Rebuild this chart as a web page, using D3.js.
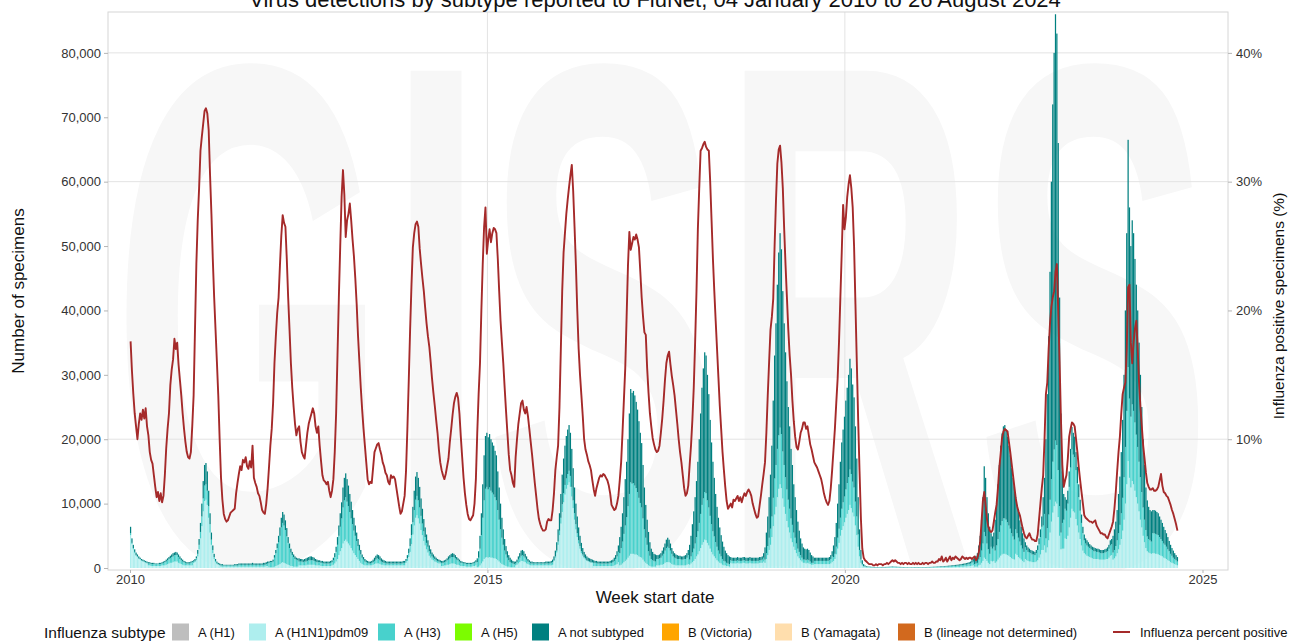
<!DOCTYPE html>
<html><head><meta charset="utf-8">
<script src="https://cdn.jsdelivr.net/npm/d3@7"></script>
<style>
html,body{margin:0;padding:0;background:#fff;}
svg{display:block;font-family:"Liberation Sans",Arial,Helvetica,sans-serif;}
</style></head><body>
<svg id="chart" width="1296" height="644"></svg>
<script>
// ---------------- DATA ----------------
const titleText = "Virus detections by subtype reported to FluNet, 04 January 2010 to 26 August 2024";
const firstWeek = "2010-01-04";
const lastWeek = "2024-08-26";
const subtypeNames = ["A (H1)","A (H1N1)pdm09","A (H3)","A (H5)","A not subtyped","B (Victoria)","B (Yamagata)","B (lineage not determined)"];
const subtypeColors = ["#bebebe","#aeeeee","#48d1cc","#7cfc00","#008080","#ffa500","#ffdead","#d2691e"];
const lineName = "Influenza percent positive";
const lineColor = "#a52a2a";
const countTicks = [0,10000,20000,30000,40000,50000,60000,70000,80000];
const pctTicks = [10,20,30,40];
const yearTicks = [2010,2015,2020,2025];
const countGrid = [20000,60000,80000];
const yearGrid = [2015,2020];

// weekly counts, A(H1N1)pdm09
const pdm09 = [
5100,3700,2900,2300,1900,1700,1400,1300,1100,1000,900,800,700,
400,400,300,300,300,300,300,300,300,300,400,400,400,500,600,700,800,800,900,1000,1000,1000,800,700,600,500,400,400,400,400,400,400,400,
800,900,1200,1800,2900,4600,6500,8800,10400,10600,9800,7800,5500,3600,2300,1400,900,600,500,400,
200,200,200,200,200,200,200,200,200,200,200,200,200,200,200,200,200,200,200,200,200,200,200,200,200,200,200,200,200,200,200,200,200,300,300,
100,100,100,100,200,300,400,500,600,800,900,800,700,600,500,400,300,300,200,200,200,200,
400,400,400,400,400,400,500,500,500,500,500,500,400,400,400,400,300,300,300,300,300,300,300,300,400,
500,700,1000,1400,2000,2600,3100,3800,4200,4400,4100,3800,3500,3100,2700,2300,2000,1700,1400,1100,800,600,500,400,400,
400,400,400,400,500,600,700,700,700,600,500,500,400,400,400,400,400,400,400,400,400,400,400,400,400,400,400,400,
800,1100,1700,2500,3700,5200,6600,7800,8200,7700,6900,5900,5100,4200,3500,2900,2400,1900,1600,1300,1200,1000,900,800,700,700,
300,300,400,400,500,500,600,700,700,700,600,500,500,400,300,300,300,300,200,200,200,200,200,300,300,400,
100,200,400,700,1000,1400,1600,1700,1600,1700,1600,1600,1500,1500,1400,1200,1000,800,600,500,400,300,200,200,100,100,100,100,
400,500,700,900,1100,1100,1000,900,700,600,500,400,400,400,400,400,400,400,400,400,400,400,400,400,400,400,400,500,
1100,1600,2400,3600,5100,6900,8700,10200,11400,12300,12900,13300,12600,11100,9300,7500,6000,4800,3800,3000,2300,1900,1500,1300,1100,1000,900,800,800,
300,300,300,300,300,300,300,300,300,300,300,300,300,300,300,400,500,600,900,
400,500,700,900,1100,1300,1600,1900,2200,2200,2200,2100,2100,2000,1800,1700,1600,1300,1000,800,600,400,300,200,200,200,200,
400,400,400,500,500,600,800,900,900,900,800,600,500,500,400,400,400,400,400,400,400,400,500,600,
500,700,900,1100,1400,1800,2100,2600,3100,3600,4000,4400,4300,3900,3500,3000,2500,2100,1800,1500,1200,1000,800,700,500,400,400,300,300,200,
800,700,700,700,700,800,700,700,700,800,800,700,700,700,800,700,700,700,700,700,700,800,800,800,1000,
800,1400,2000,2800,3600,4800,6500,8300,9500,11000,12300,13000,12400,10800,9500,8400,7300,6300,5500,4600,4000,3300,2800,2300,1800,1500,1200,1000,800,800,700,800,700,600,500,500,
600,600,600,600,600,600,600,600,600,600,600,600,700,900,
1100,1400,2100,3000,3900,5000,5900,6500,7100,7800,8400,9000,9800,9300,8600,8000,6600,5100,3300,1800,800,400,200,
120,90,80,70,60,50,50,50,40,40,40,40,50,40,50,50,50,60,60,70,
70,70,60,60,60,50,50,50,40,40,40,40,40,40,40,40,40,40,50,40,
40,40,40,40,40,50,50,50,50,60,60,60,70,70,80,80,80,90,90,100,
100,110,110,120,130,140,140,150,160,170,180,190,200,220,230,250,270,300,360,420,
200,200,200,400,500,800,1100,1600,1400,1100,800,600,1100,1000,1100,800,1000,1300,1600,1900,
2100,2200,2200,2100,2000,1900,1700,1500,1400,1300,2200,2000,1700,1500,1300,1100,900,1400,1200,1100,
1000,1000,900,900,900,1000,1200,1600,2100,2800,2800,3500,
2400,3200,4300,5500,7200,8600,9600,10300,10000,7900,5000,2900,3000,3000,
4600,4500,5000,6300,7800,9200,8800,8600,7600,6600,5500,4500,3500,2700,
2300,2100,1900,1800,1700,1600,1500,1400,1400,1400,1400,1300,1300,1300,1300,1300,1400,1400,1600,1900,2000,
1300,1500,1800,2300,2900,3600,4500,5800,7500,10000,13000,16600,14000,12500,13500,13000,12000,11000,10000,8800,7500,6300,5000,4000,3100,2600,2400,2300,2200,
2300,2300,2200,2200,2100,2000,1900,1800,1600,1500,1400,1200,1100,900,800,700,600,500,400
];

// weekly counts, A(H3)
const h3 = [
300,200,200,200,100,100,100,100,100,100,100,100,100,
300,300,300,300,300,300,300,300,300,300,300,400,500,500,600,700,700,900,900,1000,1000,1000,900,700,600,500,500,400,300,300,300,400,500,
200,200,300,400,700,1000,1500,2000,2400,2400,2200,1800,1300,800,500,300,200,200,100,100,
200,200,200,200,200,200,200,200,200,200,200,200,200,300,300,300,300,300,300,300,300,300,300,300,300,300,300,300,300,300,300,300,300,300,400,
700,800,800,900,1400,2000,2700,3500,4400,5500,6100,5800,5200,4300,3400,2700,2100,1700,1500,1200,1100,1000,
600,600,600,500,600,600,600,700,700,700,700,600,600,500,500,500,500,500,400,400,400,400,400,500,500,
700,1000,1500,2200,3000,3800,4600,5600,6300,6600,6200,5800,5200,4600,4100,3500,3000,2500,2000,1600,1300,1000,800,600,500,
400,300,300,400,400,500,600,800,700,600,500,400,400,400,300,300,300,300,300,300,300,300,300,300,300,300,400,400,
300,400,600,900,1400,1900,2400,2800,3000,2800,2500,2200,1800,1500,1300,1000,900,700,600,500,400,400,300,300,300,200,
500,500,500,600,700,800,900,1000,1000,1000,900,800,700,600,500,500,400,400,400,400,400,400,400,400,500,500,
800,1400,2600,4400,6800,9100,10700,10900,10600,10800,10400,10100,9900,9500,9100,7800,6500,5200,4100,3100,2300,1800,1400,1000,800,700,600,500,
300,400,600,700,800,900,800,700,600,400,400,300,300,300,300,300,300,300,300,300,300,300,300,300,300,300,400,400,
100,200,300,500,700,900,1200,1400,1500,1600,1700,1800,1700,1500,1200,1000,800,600,500,400,300,200,200,200,100,100,100,100,100,
500,500,500,400,400,400,400,400,400,400,400,400,500,500,600,700,900,1200,1600,
1900,2600,3400,4400,5500,6600,8000,9600,11100,10900,11000,10700,10300,9800,9100,8400,7800,6400,5000,3900,3000,2200,1600,1200,1000,900,800,
1000,1000,1100,1100,1400,1600,1900,2200,2400,2200,1900,1600,1300,1100,1100,1000,1000,1000,900,900,1000,1000,1100,1400,
800,1100,1500,1900,2400,3000,3600,4400,5300,6200,6800,7400,7300,6600,5900,5100,4300,3600,3100,2500,2100,1700,1400,1100,900,700,600,500,400,400,
400,400,400,400,400,400,400,400,400,400,400,400,400,400,400,400,400,400,400,400,400,400,400,500,600,
500,900,1400,1900,2500,3200,4400,5600,6500,7500,8300,8800,8400,7300,6500,5700,4900,4300,3700,3100,2700,2200,1900,1500,1200,1000,800,600,500,500,500,500,500,400,300,300,
500,500,500,500,500,500,500,500,500,500,500,600,700,900,
600,800,1200,1700,2200,2800,3300,3700,4000,4400,4800,5100,5500,5300,4800,4500,3700,2900,1900,1000,500,200,100,
160,120,100,90,80,70,70,60,60,60,60,60,60,60,60,70,70,80,80,90,
90,90,80,80,80,70,70,60,60,60,60,60,50,50,60,60,60,60,60,60,
60,60,60,60,60,60,70,70,70,80,80,80,90,90,100,100,110,120,120,130,
140,140,150,160,170,180,190,200,210,220,240,260,270,290,300,330,360,400,480,560,
400,500,600,900,1200,1900,2700,4000,3500,2700,2100,1600,2200,2000,2200,1900,2500,3200,4000,4700,
5200,5500,5500,5400,5100,4700,4400,3900,3500,3100,3800,3400,3000,2600,2200,1900,1600,1800,1600,1400,
1400,1300,1200,1200,1100,1300,1600,2100,2700,3600,3800,4900,
2200,3000,4000,5100,6600,7900,8800,9500,9100,7300,4600,2600,4000,4500,
4600,4400,5000,6300,7800,9200,8800,8600,7600,6600,5500,4400,3500,2700,
2000,1700,1600,1500,1400,1300,1300,1200,1200,1100,1100,1100,1000,1000,1000,1100,1100,1200,1400,1600,1700,
1100,1300,1600,2000,2500,3100,4000,5100,6600,8800,11400,14600,12300,11000,11900,11400,10600,9700,8800,7700,6600,5500,4400,3500,2800,2300,2100,2000,1900,
3100,3100,3100,3000,3000,2800,2600,2400,2200,2100,1900,1700,1500,1300,1100,900,800,700,600
];

// weekly counts, A not subtyped
const notSubtyped = [
1000,700,500,400,400,300,300,200,200,200,200,200,200,
200,200,200,200,200,100,100,100,200,200,200,200,200,300,300,300,400,400,500,400,500,400,400,400,300,300,200,200,200,200,200,200,200,
200,300,300,600,900,1400,2000,2700,3200,3300,3000,2400,1700,1100,700,500,300,200,200,200,
200,200,100,100,100,100,100,100,100,100,200,200,200,200,200,200,200,200,200,200,200,200,200,300,200,200,200,200,200,200,200,300,300,300,300,
200,200,200,300,400,500,700,1000,1300,1500,1700,1700,1500,1300,900,700,600,500,400,400,300,300,
500,400,400,400,400,500,500,500,600,600,500,500,400,400,300,300,300,300,300,300,300,300,300,300,300,
400,600,800,1200,1600,2100,2500,3100,3500,3700,3500,3200,2800,2600,2200,2000,1600,1300,1100,900,700,500,400,400,300,
300,300,300,300,400,500,600,600,600,600,500,400,400,300,300,300,300,300,300,300,300,300,300,300,300,300,300,300,
300,500,700,1200,1700,2400,3000,3600,3700,3500,3200,2700,2300,1900,1500,1300,1000,900,700,600,500,400,400,300,300,300,
300,300,300,300,300,500,500,500,600,500,500,400,300,300,300,200,200,200,200,200,200,200,200,200,200,300,
600,1000,2000,3400,5200,7000,8200,8400,8100,8300,8000,7800,7600,7200,7000,6000,5000,4000,3100,2400,1800,1300,1000,800,700,500,400,400,
300,400,500,700,800,800,800,600,500,400,300,300,300,200,200,200,200,200,200,200,200,200,300,300,300,300,300,400,
600,900,1300,1900,2700,3700,4600,5400,6100,6600,6900,7100,6700,5900,5000,4000,3200,2600,2000,1600,1300,1000,800,600,600,500,500,500,400,
400,300,300,300,300,300,300,300,300,300,300,300,300,400,400,500,600,800,1000,
2500,3300,4400,5700,7200,8600,10400,12500,14500,14100,14300,14000,13400,12800,11900,10900,10000,8300,6500,5100,3900,3000,2100,1600,1300,1100,1100,
600,600,600,700,800,1000,1100,1300,1400,1300,1100,900,800,700,600,600,500,500,500,500,500,600,700,800,
2300,3200,4400,5800,7200,8700,10800,13000,15600,18200,20200,21700,21400,19500,17600,14900,12700,10800,9100,7500,6200,5100,4100,3300,2700,2200,1700,1500,1300,1200,
500,500,500,500,500,500,500,500,500,500,500,500,500,500,500,500,500,500,500,500,500,500,500,500,700,
1900,3200,4600,6300,8400,11000,15100,19100,22000,25500,28400,30200,28700,24900,22000,19400,16800,14400,12800,10800,9300,7500,6300,5200,4200,3300,2600,2200,1900,1700,1700,1700,1600,1400,1200,1000,
500,500,500,500,500,500,500,500,500,500,500,500,600,800,
1800,2600,3700,5300,6900,8700,10300,11300,12400,13800,14800,15900,17200,16400,15100,14000,11700,9000,5800,3200,1500,600,300,
120,90,70,60,60,60,50,50,50,50,40,50,50,50,50,50,60,50,60,60,
70,60,70,60,50,60,50,50,50,50,40,40,40,40,40,40,50,50,50,50,
50,40,40,50,50,50,50,50,60,50,60,70,60,70,70,80,90,80,90,90,
100,110,120,120,120,130,150,150,160,170,180,190,210,210,230,240,270,300,360,420,
1000,1200,1500,2200,3300,4800,7200,10200,9100,7200,5600,4200,2100,1900,2200,4800,6500,8500,10400,12400,
13600,14300,14500,14000,13300,12400,11400,10100,9100,8200,5000,4400,3900,3300,2900,2400,2100,800,700,700,
600,500,600,500,500,500,700,900,1200,1600,4400,5600,
15400,20800,27700,35400,46200,55500,61600,66200,63900,50800,32400,18500,8000,4000,
1800,1700,2000,2400,2900,3500,3400,3200,2800,2500,2000,1700,1300,1000,
900,800,800,700,600,600,500,600,500,500,500,500,500,500,500,500,500,600,600,800,800,
2600,3200,3800,4700,6100,7500,9500,12100,15900,21200,27600,35300,29700,26500,28600,27600,25400,23300,21200,18500,15900,13200,10600,8500,6600,5600,5000,4700,4700,
3600,3600,3600,3500,3400,3200,3000,2800,2600,2300,2100,1900,1600,1400,1200,1100,900,800,700
];

// weekly influenza percent positive (%)
const pctPositive = [
17.6,15.3,13.5,12.0,11.0,10.0,11.2,12.0,11.5,12.3,11.6,12.4,11.0,10.3,9.0,8.4,8.1,7.2,6.3,5.5,5.9,5.2,5.8,5.1,5.6,7.2,9.3,10.8,12.0,14.2,15.4,16.2,17.8,17.0,17.5,15.8,14.6,13.4,12.0,10.8,9.8,9.0,8.6,8.5,9.0,11.0,13.4,18.5,23.6,27.0,29.5,32.4,
33.5,34.5,35.5,35.7,35.3,34.0,30.5,27.5,24.0,21.0,18.5,16.0,13.4,10.0,7.0,5.3,4.2,3.8,3.6,3.7,4.0,4.3,4.4,4.5,4.6,5.8,6.6,7.3,7.9,7.6,8.4,8.2,8.6,7.9,7.7,8.3,7.8,9.5,7.0,6.6,6.3,5.8,5.6,5.1,4.5,4.3,4.2,5.0,6.2,7.8,9.5,10.8,
12.8,15.9,18.0,19.8,21.0,23.5,25.8,27.4,26.8,26.5,24.0,21.0,18.5,15.9,14.0,12.5,11.2,10.3,10.8,11.0,9.8,9.0,8.7,8.5,9.5,10.5,11.2,11.6,12.0,12.4,12.0,11.0,10.5,11.0,9.5,8.3,7.2,6.8,6.7,6.5,6.7,6.0,5.5,6.0,6.9,9.0,12.0,16.5,21.0,25.0,28.8,30.9,
29.0,25.7,27.0,27.5,28.3,27.0,25.5,24.2,22.5,20.5,18.0,16.0,14.0,12.3,10.8,9.5,8.2,6.9,6.5,6.7,6.6,7.8,9.0,9.3,9.6,9.7,9.2,8.8,8.2,7.9,7.4,7.2,6.7,6.5,7.2,7.0,7.1,6.9,6.2,5.5,4.8,4.2,4.4,5.0,5.6,7.5,10.8,14.5,18.5,22.0,24.9,26.0,
26.7,26.9,26.5,24.8,23.6,22.5,21.5,20.2,19.0,18.0,17.2,16.0,14.7,13.6,12.6,11.5,10.5,9.2,8.2,7.6,7.2,6.9,7.3,7.9,8.5,9.8,10.8,11.9,12.8,13.3,13.6,13.2,12.0,10.2,8.6,7.0,5.8,4.9,4.2,3.8,3.7,3.9,4.1,5.0,6.9,10.5,13.5,15.9,20.0,23.6,26.5,28.0,
24.4,25.5,26.3,25.3,26.0,26.4,26.3,26.0,24.0,21.5,19.2,17.5,15.9,14.0,12.2,10.5,8.8,7.6,7.2,6.6,6.3,8.6,10.0,11.2,12.0,12.8,13.0,12.3,12.0,12.5,11.8,10.8,9.8,8.8,7.7,6.6,5.6,4.6,3.8,3.4,3.1,2.9,2.9,3.0,3.6,3.8,3.7,3.7,4.5,5.8,7.6,8.6,9.5,
12.5,17.0,21.5,24.5,26.0,27.5,28.6,29.6,30.5,31.3,29.3,26.5,23.5,20.0,17.0,15.0,13.4,11.8,10.0,9.2,8.8,8.3,8.0,7.6,6.8,6.1,5.6,6.2,6.6,7.0,7.2,7.1,7.3,7.2,7.0,6.8,6.4,5.8,4.9,4.7,4.5,4.6,5.0,5.6,6.8,8.2,10.5,13.0,15.5,19.5,23.5,26.1,
24.7,25.2,25.7,25.5,25.9,25.5,24.9,23.0,21.0,19.5,18.3,18.1,15.5,13.6,12.0,11.0,10.1,9.6,9.2,9.0,9.1,9.5,10.5,11.6,13.0,14.6,15.9,16.5,16.8,15.8,14.9,14.2,13.4,12.3,11.2,10.0,9.0,8.2,7.2,6.2,5.6,5.8,6.4,8.0,9.5,11.5,14.0,17.5,21.5,26.3,29.5,32.4,
32.6,32.9,33.1,32.7,32.5,32.4,30.0,27.0,24.0,21.5,19.2,17.0,14.8,12.6,10.8,9.0,7.6,6.3,5.2,4.6,4.8,5.0,4.7,5.3,5.2,5.4,5.6,5.2,5.5,5.1,5.5,5.8,5.6,5.9,6.1,5.9,5.6,5.0,4.6,4.2,3.9,4.0,4.8,5.6,6.5,7.3,8.2,10.5,13.4,16.0,18.5,19.5,
20.9,25.0,28.5,31.4,32.5,32.8,31.5,29.5,26.3,23.5,21.0,18.5,16.5,15.0,13.0,11.4,10.2,9.4,9.2,9.8,10.5,10.8,11.3,11.3,10.8,11.0,10.3,9.6,9.2,8.7,8.2,8.0,7.8,7.5,7.2,6.9,6.4,5.8,5.4,5.1,4.9,5.2,6.2,7.6,9.2,10.8,12.8,14.7,17.5,21.0,24.5,28.2,
26.3,27.2,28.8,29.8,30.5,29.5,28.0,25.0,20.5,16.0,11.5,7.5,3.8,1.5,0.8,0.6,0.5,
0.4,0.3,0.3,0.3,0.2,0.2,0.3,0.2,0.3,0.3,0.3,0.2,0.3,0.3,0.4,0.3,0.4,0.5,0.6,0.5,0.6,0.5,0.4,0.4,0.3,0.4,0.3,0.4,0.4,0.3,0.4,0.3,0.3,0.4,0.3,0.4,
0.3,0.4,0.3,0.3,0.4,0.3,0.4,0.4,0.3,0.4,0.4,0.5,0.4,0.4,0.5,0.5,
0.7,0.6,0.9,0.5,0.6,0.8,0.5,0.7,0.9,0.6,0.8,0.7,0.9,0.8,0.7,0.6,0.7,0.9,0.8,0.7,0.8,0.7,0.8,
0.8,0.7,0.8,0.9,0.6,0.8,1.2,2.0,3.5,5.2,5.9,4.9,3.8,
3.2,2.9,2.8,2.9,3.6,4.3,4.9,6.2,7.8,8.9,10.1,10.6,10.8,10.7,10.6,9.8,9.0,8.1,7.2,6.3,5.4,4.8,4.4,4.1,3.6,3.1,2.7,2.4,2.3,2.5,2.7,2.4,2.2,2.2,2.1,2.1,2.6,3.8,5.0,6.2,7.2,10.0,13.5,14.4,17.0,19.0,20.3,21.0,21.5,23.0,23.6,20.0,
16.0,11.5,8.0,6.3,6.8,7.2,8.5,10.2,10.8,11.3,11.2,11.0,10.0,9.0,7.8,6.8,5.9,5.0,4.1,3.9,3.8,3.7,3.6,3.6,3.5,3.6,3.7,3.3,3.1,2.9,2.7,2.7,2.6,2.6,2.4,2.3,2.6,2.9,3.2,3.6,4.6,5.9,7.5,9.0,10.2,12.0,13.5,14.0,14.4,17.0,21.8,22.0,
17.5,15.9,17.5,18.6,19.2,17.0,14.4,12.5,11.0,9.5,8.5,7.4,6.6,6.3,6.1,6.1,6.2,6.0,6.0,6.1,6.3,6.8,7.3,6.4,5.9,5.8,5.6,5.5,5.2,4.9,4.5,4.2,3.8,3.4,2.9
];

// ---------------- CHART ----------------
const svg = d3.select("#chart");
const panel = {left:108, right:1228, top:12, bottom:570};
const x = d3.scaleUtc()
  .domain([new Date(Date.UTC(2010,0,1)), new Date(Date.UTC(2025,0,1))])
  .range([130, 1202.5]);
const y = d3.scaleLinear().domain([0, 86350]).range([568, 12]);
const yPct = d3.scaleLinear().domain([0, 43.175]).range([568, 12]);

const weeks = d3.utcMonday.range(new Date(firstWeek + "T00:00:00Z"),
                                 d3.utcDay.offset(new Date(lastWeek + "T00:00:00Z"), 1));

const stackKeys = ["A (H1N1)pdm09","A (H3)","A not subtyped"];
const stackSeries = [pdm09, h3, notSubtyped];
const rows = weeks.map((d,i) => {
  const r = {date:d};
  stackKeys.forEach((k,j) => r[k] = stackSeries[j][i] || 0);
  r.pct = pctPositive[i];
  return r;
});
const layers = d3.stack().keys(stackKeys)(rows);
const colorOf = k => subtypeColors[subtypeNames.indexOf(k)];

svg.append("rect").attr("x",0).attr("y",0).attr("width",1296).attr("height",644).attr("fill","#fff");

svg.append("defs").append("clipPath").attr("id","pclip")
  .append("rect").attr("x",panel.left).attr("y",panel.top)
  .attr("width",panel.right-panel.left).attr("height",panel.bottom-panel.top);

// watermark
svg.append("g").attr("clip-path","url(#pclip)").append("text")
  .attr("x", 112).attr("y", 566)
  .attr("textLength", 1100).attr("lengthAdjust","spacingAndGlyphs")
  .attr("font-size", 720).attr("font-weight","bold")
  .attr("fill", "#f7f7f7")
  .text("GISRS");

// grid
const grid = svg.append("g");
grid.selectAll("line.h").data(countGrid).join("line")
  .attr("x1",panel.left).attr("x2",panel.right)
  .attr("y1",d=>y(d)).attr("y2",d=>y(d))
  .attr("stroke","#e3e3e3").attr("stroke-width",1);
grid.selectAll("line.v").data(yearGrid).join("line")
  .attr("y1",panel.top).attr("y2",panel.bottom)
  .attr("x1",d=>x(new Date(Date.UTC(d,0,1)))).attr("x2",d=>x(new Date(Date.UTC(d,0,1))))
  .attr("stroke","#e3e3e3").attr("stroke-width",1);

// bars
const plot = svg.append("g").attr("clip-path","url(#pclip)");
const bw = (x(d3.utcDay.offset(weeks[0],7)) - x(weeks[0])) * 0.9;
plot.selectAll("g.layer").data(layers).join("g")
  .attr("fill", d => colorOf(d.key))
  .selectAll("rect").data(d => d).join("rect")
  .attr("x", d => x(d.data.date) - bw/2)
  .attr("width", bw)
  .attr("y", d => y(d[1]))
  .attr("height", d => Math.max(0, y(d[0]) - y(d[1])));

// percent positive line
plot.append("path").datum(rows)
  .attr("fill","none").attr("stroke",lineColor).attr("stroke-width",1.9)
  .attr("stroke-linejoin","round")
  .attr("d", d3.line().x(d => x(d.date)).y(d => yPct(d.pct)));

// panel border
svg.append("rect").attr("x",panel.left).attr("y",panel.top)
  .attr("width",panel.right-panel.left).attr("height",panel.bottom-panel.top)
  .attr("fill","none").attr("stroke","#d6d6d6").attr("stroke-width",1);

// axes
const fmt = d3.format(",");
const axL = svg.append("g").attr("transform",`translate(${panel.left},0)`)
  .call(d3.axisLeft(y).tickValues(countTicks).tickFormat(fmt).tickSize(4).tickPadding(3));
const axR = svg.append("g").attr("transform",`translate(${panel.right},0)`)
  .call(d3.axisRight(yPct).tickValues(pctTicks).tickFormat(d => d + "%").tickSize(4).tickPadding(4));
const axB = svg.append("g").attr("transform",`translate(0,${panel.bottom})`)
  .call(d3.axisBottom(x).tickValues(yearTicks.map(v => new Date(Date.UTC(v,0,1)))).tickFormat(d3.utcFormat("%Y")).tickSize(3).tickPadding(2));
[axL,axR,axB].forEach(a => {
  a.select(".domain").remove();
  a.selectAll(".tick line").attr("stroke","#b5b5b5");
  a.selectAll(".tick text").attr("fill","#333").attr("font-size",13)
    .attr("font-family",'"Liberation Sans",Arial,sans-serif');
});

// titles
svg.append("text").attr("x",655).attr("y",7).attr("text-anchor","middle")
  .attr("font-size",22).attr("fill","#111").text(titleText);
svg.append("text").attr("transform","translate(24,291) rotate(-90)")
  .attr("text-anchor","middle").attr("font-size",17).attr("fill","#111").text("Number of specimens");
svg.append("text").attr("transform","translate(1284,306) rotate(-90)")
  .attr("text-anchor","middle").attr("font-size",15.5).attr("fill","#111").text("Influenza positive specimens (%)");
svg.append("text").attr("x",655).attr("y",603).attr("text-anchor","middle")
  .attr("font-size",17).attr("fill","#111").text("Week start date");

// legend
const lg = svg.append("g");
lg.append("text").attr("x",44).attr("y",638).attr("font-size",15.5).attr("fill","#111").text("Influenza subtype");
const keyX = [172,249,378,455,532,662,775,898];
subtypeNames.forEach((n,i) => {
  lg.append("rect").attr("x",keyX[i]).attr("y",623.5).attr("width",17).attr("height",17).attr("fill",subtypeColors[i]);
  lg.append("text").attr("x",keyX[i]+26).attr("y",637).attr("font-size",13).attr("fill","#111").text(n);
});
lg.append("line").attr("x1",1113).attr("x2",1130).attr("y1",632).attr("y2",632)
  .attr("stroke",lineColor).attr("stroke-width",2);
lg.append("text").attr("x",1140).attr("y",637).attr("font-size",13).attr("fill","#111").text(lineName);
</script>
</body></html>
